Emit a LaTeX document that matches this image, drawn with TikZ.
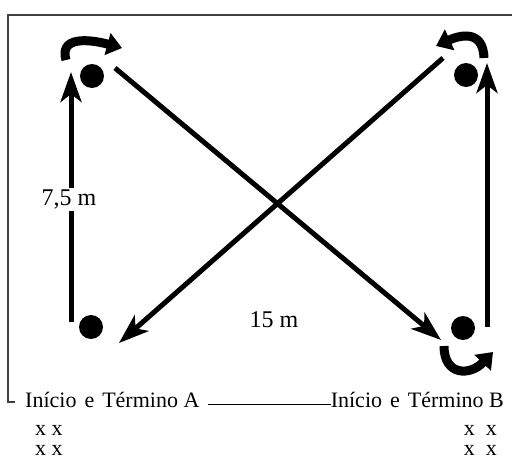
\documentclass[tikz,border=0pt]{standalone}
\usepackage{fontspec}
\setmainfont{Liberation Serif}
\usetikzlibrary{positioning,arrows.meta}

\begin{document}
\begin{tikzpicture}[
  x=1pt,y=-1pt,
  dot/.style={circle,fill,inner sep=0pt,minimum size=24pt},
  arr/.style={-{Stealth[length=30pt,width=21pt,inset=8pt]},line width=5pt},
  curl/.style={-{Triangle[length=15pt,width=22pt]},line width=9pt},
  lbl/.style={font=\fontsize{22}{26}\selectfont,inner sep=0pt},
  dist/.style={font=\fontsize{24}{28}\selectfont,inner sep=2pt}
]
\useasboundingbox (0,0) rectangle (512,461);
\draw[line width=1.2pt,black!75] (512,15) -- (8,15) -- (8,402) -- (15,402);
\node[dot] (tl) at (92,76) {};
\node[dot] (tr) at (466,75) {};
\node[dot] (bl) at (91,327) {};
\node[dot] (br) at (463,328) {};
\coordinate (upAfrom) at (71,322);
\coordinate (upAto) at (71,72);
\coordinate (upBfrom) at (487,327);
\coordinate (upBto) at (487,63);
\coordinate (crossAfrom) at (115,68);
\coordinate (crossAto) at (441,340);
\coordinate (crossBfrom) at (443,58);
\coordinate (crossBto) at (119,343);
\draw[arr] (upAfrom) -- node[dist,fill=white,pos=0.49,xshift=-2pt] (side) {7,5 m} (upAto);
\draw[arr] (upBfrom) -- (upBto);
\draw[arr] (crossAfrom) -- (crossAto);
\draw[arr] (crossBfrom) -- (crossBto);
\node[dist] (diag) at (274,320) {15 m};
\draw[curl] (66,60) .. controls (58,32) and (100,42) .. (122,48);
\draw[curl] (484,58) .. controls (483,28) and (458,36) .. (436,46);
\draw[curl] (444,346) .. controls (444,376) and (470,376) .. (493,352);
\node[lbl,anchor=base west] (startA) at (25,407) {Início\hspace{8pt}e\hspace{8pt}Término A};
\node[lbl,anchor=base east] (startB) at (504,407) {Início\hspace{8pt}e\hspace{8pt}Término B};
\draw[line width=0.8pt] ([xshift=8pt]startA.mid east) -- (startB.mid west);
\node[lbl,anchor=base west] (rowAone) at (35,435) {x x};
\node[lbl,anchor=base west] (rowAtwo) at (35,455) {x x};
\node[lbl,anchor=base east] (rowBone) at (497,435) {x\ \ x};
\node[lbl,anchor=base east] (rowBtwo) at (497,455) {x\ \ x};
\end{tikzpicture}
\end{document}
